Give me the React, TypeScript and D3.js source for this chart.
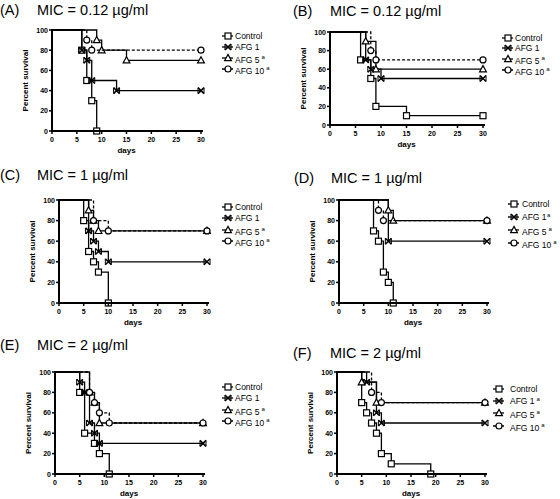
import React from "react";
import * as d3 from "d3";

type Pt = [number, number];

// Kaplan-Meier events: [day, percent survival after the drop]
const aControl: Pt[] = [[6, 80], [7, 50], [8, 30], [9, 0]];
const aAfg1: Pt[] = [[6, 80], [7, 70], [8, 50], [13, 40]];
const aAfg5: Pt[] = [[9, 90], [10, 80], [15, 70]];
const aAfg10: Pt[] = [[7, 90], [8, 80]];

const bControl: Pt[] = [[6, 70], [8, 50], [9, 20], [15, 10]];
const bAfg1: Pt[] = [[7, 70], [8, 60], [10, 50]];
const bAfg5: Pt[] = [[7, 90], [9, 60]];
const bAfg10: Pt[] = [[8, 80], [9, 70]];

const cControl: Pt[] = [[5, 80], [6, 50], [7, 40], [8, 30], [10, 0]];
const cAfg1: Pt[] = [[6, 70], [7, 60], [8, 50], [10, 40]];
const cAfg5: Pt[] = [[6, 90], [7, 80], [8, 70]];
const cAfg10: Pt[] = [[7, 80], [10, 70]];

const dControl: Pt[] = [[7, 70], [8, 60], [9, 30], [10, 20], [11, 0]];
const dAfg1: Pt[] = [[10, 60]];
const dAfg5: Pt[] = [[10, 90], [11, 80]];
const dAfg10: Pt[] = [[8, 90], [9, 80]];

const eControl: Pt[] = [[5, 80], [6, 40], [8, 30], [9, 20], [11, 0]];
const eAfg1: Pt[] = [[5, 90], [6, 80], [7, 50], [8, 40], [9, 30]];
const eAfg5: Pt[] = [[7, 80], [8, 70], [9, 50]];
const eAfg10: Pt[] = [[7, 80], [8, 70], [9, 60], [11, 50]];

const fControl: Pt[] = [[5, 70], [6, 60], [7, 50], [8, 40], [9, 20], [11, 10], [19, 0]];
const fAfg1: Pt[] = [[6, 90], [8, 60], [9, 50]];
const fAfg5: Pt[] = [[5, 90], [8, 70]];
const fAfg10: Pt[] = [[7, 80], [9, 70]];

const xTicks = [0, 5, 10, 15, 20, 25, 30];
const yTicks = [0, 20, 40, 60, 80, 100];
const seriesNames = ["Control", "AFG 1", "AFG 5", "AFG 10"];
const markers = ["square", "cross", "triangle", "circle"];

const FONT = "'Liberation Sans', Arial, sans-serif";

interface Panel {
  letter: string;
  mic: string;
  data: Pt[][];
  sup: boolean[];
  supSpace: boolean[];
  x0: number; x1: number; yTop: number; yBot: number;
  titleX: number; micX: number; titleY: number;
  legLine: number; legText: number; legRows: number[];
}

const panels: Panel[] = [
  { letter: "(A)", mic: "MIC = 0.12 µg/ml", data: [aControl, aAfg1, aAfg5, aAfg10], sup: [false, false, true, true], supSpace: [false, false, true, true],
    x0: 52, x1: 201, yTop: 30, yBot: 131, titleX: 0, micX: 37, titleY: 15, legLine: 222, legText: 235, legRows: [36, 47, 58, 69] },
  { letter: "(B)", mic: "MIC = 0.12 µg/ml", data: [bControl, bAfg1, bAfg5, bAfg10], sup: [false, false, true, true], supSpace: [false, false, true, true],
    x0: 330, x1: 483, yTop: 32, yBot: 125, titleX: 293, micX: 330, titleY: 16, legLine: 502, legText: 515, legRows: [38, 48, 59, 70] },
  { letter: "(C)", mic: "MIC = 1 µg/ml", data: [cControl, cAfg1, cAfg5, cAfg10], sup: [false, false, true, true], supSpace: [false, false, true, true],
    x0: 59, x1: 207, yTop: 200, yBot: 303, titleX: 0, micX: 37, titleY: 180, legLine: 222, legText: 235, legRows: [207, 218, 230, 241] },
  { letter: "(D)", mic: "MIC = 1 µg/ml", data: [dControl, dAfg1, dAfg5, dAfg10], sup: [false, true, true, true], supSpace: [false, false, true, true],
    x0: 339, x1: 487, yTop: 200, yBot: 303, titleX: 294, micX: 331, titleY: 183, legLine: 508, legText: 522, legRows: [204, 217, 230, 243] },
  { letter: "(E)", mic: "MIC = 2 µg/ml", data: [eControl, eAfg1, eAfg5, eAfg10], sup: [false, false, true, true], supSpace: [false, false, true, true],
    x0: 55, x1: 203, yTop: 372, yBot: 474, titleX: 0, micX: 37, titleY: 350, legLine: 222, legText: 235, legRows: [387, 398, 410, 421] },
  { letter: "(F)", mic: "MIC = 2 µg/ml", data: [fControl, fAfg1, fAfg5, fAfg10], sup: [false, true, true, true], supSpace: [false, true, true, true],
    x0: 337, x1: 485, yTop: 372, yBot: 474, titleX: 293, micX: 330, titleY: 358, legLine: 493, legText: 510, legRows: [389, 401, 413, 426] },
];

function Marker({ kind, x, y }: { kind: string; x: number; y: number }) {
  const s = 3;
  if (kind === "square")
    return <rect x={x - s} y={y - s} width={2 * s} height={2 * s} fill="white" stroke="black" strokeWidth={1.2} />;
  if (kind === "circle")
    return <circle cx={x} cy={y} r={s} fill="white" stroke="black" strokeWidth={1.2} />;
  if (kind === "triangle")
    return <path d={`M${x},${y - s - 0.6}L${x + s + 0.4},${y + s - 0.4}L${x - s - 0.4},${y + s - 0.4}Z`} fill="white" stroke="black" strokeWidth={1.2} />;
  return (
    <g stroke="black" strokeWidth={1.5}>
      <path d={`M${x - s},${y - s}L${x + s},${y + s}M${x + s},${y - s}L${x - s},${y + s}`} />
      <path d={`M${x - s},${y - s}L${x - s},${y + s}M${x + s},${y - s}L${x + s},${y + s}`} strokeWidth={1} />
    </g>
  );
}

function PanelChart({ p }: { p: Panel }) {
  const x = d3.scaleLinear().domain([0, 30]).range([p.x0, p.x1]);
  const y = d3.scaleLinear().domain([0, 100]).range([p.yBot, p.yTop]);
  const line = d3.line<Pt>().x((d) => x(d[0])).y((d) => y(d[1])).curve(d3.curveStepAfter);
  const midY = (p.yTop + p.yBot) / 2;
  const midX = (p.x0 + p.x1) / 2;
  return (
    <g fontFamily={FONT}>
      <text x={p.titleX} y={p.titleY} fontSize={14.5}>{p.letter}</text>
      <text x={p.micX} y={p.titleY} fontSize={14.5}>{p.mic}</text>
      {p.data.map((ev, i) => {
        const last = ev[ev.length - 1][1];
        const pts: Pt[] = [[0, 100], ...ev];
        if (last > 0) pts.push([30, last]);
        const marks: Pt[] = last > 0 ? [...ev, [30, last]] : ev;
        return (
          <g key={i}>
            <path d={line(pts) || ""} fill="none" stroke="black" strokeWidth={1.3} strokeDasharray={i === 3 ? "3,2" : undefined} />
            {marks.map((m, j) => <Marker key={j} kind={markers[i]} x={x(m[0])} y={y(m[1])} />)}
          </g>
        );
      })}
      {/* axes */}
      <line x1={p.x0} x2={p.x0} y1={p.yTop - 1} y2={p.yBot + 1} stroke="black" strokeWidth={2} />
      <line x1={p.x0 - 1} x2={p.x1 + 2} y1={p.yBot} y2={p.yBot} stroke="black" strokeWidth={2} />
      {yTicks.map((t) => (
        <g key={t}>
          <line x1={p.x0 - 3} x2={p.x0} y1={y(t)} y2={y(t)} stroke="black" strokeWidth={1.5} />
          <text x={p.x0 - 4} y={y(t) + 2.5} fontSize={7} fontWeight="bold" textAnchor="end">{t}</text>
        </g>
      ))}
      {xTicks.map((t) => (
        <g key={t}>
          <line x1={x(t)} x2={x(t)} y1={p.yBot} y2={p.yBot + 3} stroke="black" strokeWidth={1.5} />
          <text x={x(t)} y={p.yBot + 11} fontSize={7} fontWeight="bold" textAnchor="middle">{t}</text>
        </g>
      ))}
      <text transform={`translate(${p.x0 - 24},${midY}) rotate(-90)`} fontSize={8} fontWeight="bold" textAnchor="middle">Percent survival</text>
      <text x={midX} y={p.yBot + 22} fontSize={8} fontWeight="bold" textAnchor="middle">days</text>
      {/* legend */}
      {seriesNames.map((n, i) => {
        const ly = p.legRows[i];
        return (
          <g key={n}>
            <line x1={p.legLine} x2={p.legLine + 11} y1={ly} y2={ly} stroke="black" strokeWidth={1.3} strokeDasharray={i === 3 ? "3,1.5" : undefined} />
            <Marker kind={markers[i]} x={p.legLine + 6} y={ly} />
            <text x={p.legText} y={ly + (i >= 2 ? 4.5 : 3)} fontSize={8.5}>
              {n}
              {p.sup[i] && (
                <tspan dx={p.supSpace[i] ? 2 : 0.5} dy={-3.5} fontSize={6}>a</tspan>
              )}
            </text>
          </g>
        );
      })}
    </g>
  );
}

export default function App() {
  return (
    <svg width={560} height={499} style={{ position: "absolute", left: 0, top: 0, background: "white" }}>
      <rect width={560} height={499} fill="white" />
      {panels.map((p) => <PanelChart key={p.letter} p={p} />)}
    </svg>
  );
}
